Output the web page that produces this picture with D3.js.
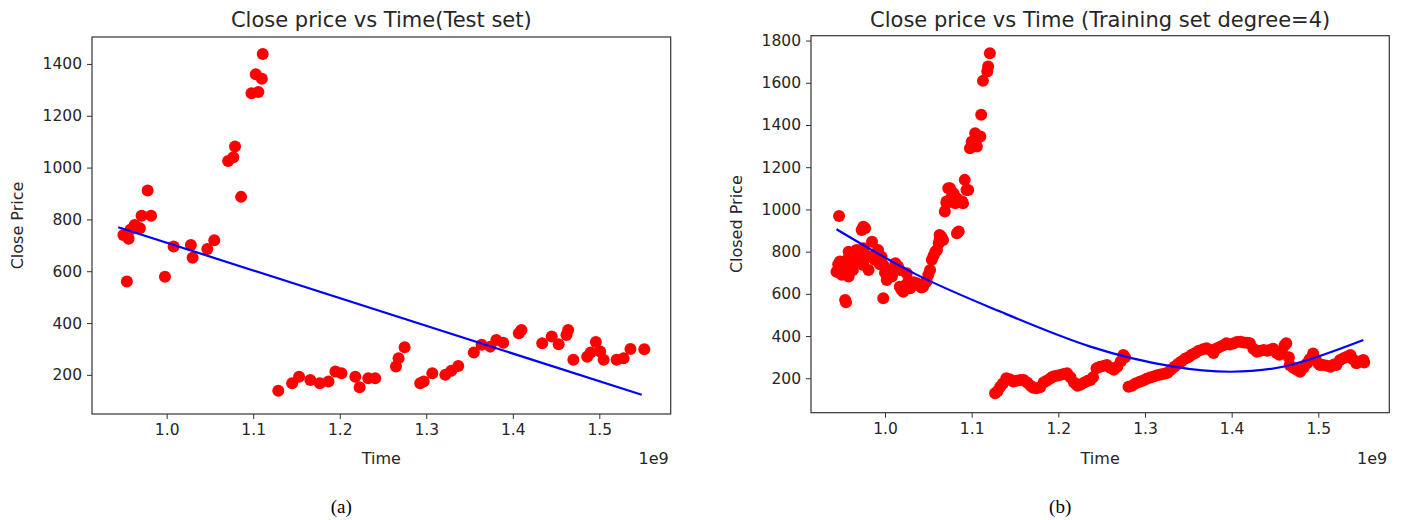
<!DOCTYPE html>
<html>
<head>
<meta charset="utf-8">
<script src="https://cdn.jsdelivr.net/npm/d3@7"></script>
<style>
  body { margin: 0; background: #fff; }
</style>
</head>
<body>
<svg id="chart" width="1401" height="520"></svg>
<script>
// time in units of 1e9 seconds, close price
const testPoints = [
  [0.950, 740], [0.954, 560], [0.956, 725], [0.958, 760], [0.963, 778], [0.966, 770],
  [0.969, 766], [0.971, 814], [0.978, 912], [0.982, 814], [0.998, 579], [1.008, 695],
  [1.028, 701], [1.030, 652], [1.047, 686], [1.055, 720], [1.071, 1025], [1.077, 1040],
  [1.079, 1081], [1.086, 887], [1.098, 1287], [1.106, 1292], [1.103, 1360], [1.110, 1343],
  [1.111, 1438], [1.129, 139], [1.145, 168], [1.153, 193], [1.166, 180], [1.177, 168],
  [1.187, 174], [1.195, 213], [1.202, 206], [1.218, 193], [1.223, 152], [1.233, 187],
  [1.241, 187], [1.265, 232], [1.268, 264], [1.275, 307], [1.293, 168], [1.297, 174],
  [1.307, 206], [1.322, 200], [1.329, 216], [1.337, 234], [1.355, 286], [1.364, 316],
  [1.374, 309], [1.381, 335], [1.389, 324], [1.407, 361], [1.410, 373], [1.434, 322],
  [1.445, 348], [1.453, 318], [1.462, 354], [1.464, 373], [1.470, 258], [1.486, 270],
  [1.490, 286], [1.496, 327], [1.501, 290], [1.505, 258], [1.520, 258], [1.528, 264],
  [1.536, 300], [1.552, 299]
];

const testFit = [[0.944, 770], [1.549, 123]];

const trainPoints = [
  [0.944, 705], [0.946, 740], [0.947, 969], [0.948, 753], [0.950, 690], [0.952, 720],
  [0.954, 571], [0.955, 560], [0.956, 761], [0.956, 713], [0.958, 800], [0.958, 682],
  [0.960, 740], [0.963, 745], [0.963, 713], [0.965, 780], [0.967, 808], [0.969, 760],
  [0.971, 769], [0.973, 903], [0.975, 918], [0.975, 816], [0.975, 737], [0.977, 911],
  [0.979, 780], [0.981, 713], [0.983, 776], [0.985, 847], [0.988, 761], [0.990, 790],
  [0.992, 808], [0.994, 740], [0.996, 776], [0.998, 737], [0.998, 579], [1.000, 700],
  [1.002, 666], [1.004, 705], [1.006, 690], [1.008, 682], [1.010, 720], [1.012, 745],
  [1.015, 730], [1.017, 713], [1.017, 634], [1.019, 620], [1.021, 610], [1.023, 640],
  [1.025, 698], [1.027, 660], [1.029, 627], [1.031, 640], [1.033, 655], [1.035, 645],
  [1.037, 650], [1.040, 640], [1.042, 630], [1.044, 634], [1.046, 650], [1.048, 660],
  [1.050, 690], [1.052, 713], [1.054, 761], [1.056, 780], [1.058, 800], [1.060, 808],
  [1.062, 840], [1.063, 855], [1.063, 879], [1.065, 870], [1.067, 855], [1.069, 990],
  [1.071, 1029], [1.071, 1037], [1.073, 1100], [1.075, 1045], [1.075, 1100], [1.077, 1060],
  [1.079, 1077], [1.081, 1029], [1.083, 1053], [1.083, 887], [1.085, 895], [1.089, 1037],
  [1.090, 1029], [1.092, 1140], [1.094, 1092], [1.096, 1092], [1.098, 1290], [1.100, 1321],
  [1.104, 1361], [1.106, 1298], [1.110, 1345], [1.111, 1448], [1.113, 1609], [1.118, 1653],
  [1.119, 1677], [1.121, 1740],
  [1.127, 129], [1.130, 140], [1.133, 160], [1.136, 175], [1.140, 200], [1.144, 195],
  [1.148, 185], [1.152, 188], [1.156, 192], [1.160, 192], [1.164, 180], [1.168, 165],
  [1.171, 155], [1.175, 153], [1.179, 158], [1.183, 180], [1.187, 190], [1.191, 200],
  [1.194, 208], [1.198, 212], [1.202, 216], [1.206, 220], [1.210, 224], [1.214, 205],
  [1.218, 180], [1.222, 165], [1.226, 170], [1.230, 180], [1.234, 188], [1.237, 192],
  [1.240, 205], [1.244, 247], [1.248, 255], [1.252, 258], [1.256, 263], [1.260, 250],
  [1.264, 240], [1.268, 255], [1.272, 280], [1.275, 310], [1.277, 300],
  [1.281, 160], [1.285, 165], [1.289, 175], [1.294, 184], [1.298, 190], [1.302, 198],
  [1.306, 204], [1.310, 208], [1.314, 214], [1.318, 218], [1.322, 222], [1.326, 226],
  [1.330, 240], [1.334, 255], [1.338, 268], [1.342, 280], [1.346, 292], [1.350, 300],
  [1.354, 312], [1.358, 320], [1.362, 330], [1.367, 338], [1.371, 342], [1.375, 335],
  [1.379, 320], [1.383, 342], [1.387, 350], [1.391, 358], [1.394, 366], [1.398, 360],
  [1.402, 365], [1.406, 372], [1.410, 373], [1.414, 370], [1.418, 368], [1.421, 366],
  [1.425, 340], [1.429, 326], [1.433, 330], [1.437, 334], [1.441, 330], [1.444, 334],
  [1.448, 340], [1.452, 320], [1.455, 312], [1.458, 330], [1.461, 355], [1.463, 366],
  [1.466, 300], [1.467, 263], [1.471, 250], [1.475, 240], [1.479, 231], [1.483, 250],
  [1.487, 271], [1.490, 290], [1.494, 318], [1.497, 290], [1.500, 270], [1.502, 263],
  [1.506, 263], [1.510, 260], [1.514, 255], [1.518, 265], [1.521, 263], [1.525, 287],
  [1.529, 295], [1.533, 302], [1.537, 310], [1.540, 290], [1.544, 271], [1.548, 280],
  [1.552, 287], [1.553, 275]
];

const trainFit = [
  [0.944, 906], [1.037, 690], [1.133, 516], [1.237, 350], [1.333, 255],
  [1.398, 231], [1.467, 262], [1.552, 381]
];

const xTicks = [1.0, 1.1, 1.2, 1.3, 1.4, 1.5];
const testYTicks = [200, 400, 600, 800, 1000, 1200, 1400];
const trainYTicks = [200, 400, 600, 800, 1000, 1200, 1400, 1600, 1800];

const svg = d3.select("#chart")
    .style("font-family", "'DejaVu Sans', sans-serif");

function drawPanel(p) {
    const x = d3.scaleLinear().domain(p.xDomain).range([p.left, p.right]);
    const y = d3.scaleLinear().domain(p.yDomain).range([p.bottom, p.top]);
    const g = svg.append("g");

    g.append("g")
        .selectAll("circle")
        .data(p.points)
        .enter()
        .append("circle")
        .attr("cx", d => x(d[0]))
        .attr("cy", d => y(d[1]))
        .attr("r", 6)
        .attr("fill", "#ff0000");

    g.append("path")
        .datum(p.fit)
        .attr("fill", "none")
        .attr("stroke", "#0000ff")
        .attr("stroke-width", 2.2)
        .attr("d", d3.line().x(d => x(d[0])).y(d => y(d[1])).curve(d3.curveNatural));

    const xAxis = g.append("g")
        .attr("transform", `translate(0,${p.bottom})`)
        .call(d3.axisBottom(x).tickValues(xTicks).tickFormat(d3.format(".1f"))
            .tickSize(5).tickSizeOuter(0).tickPadding(5));
    const yAxis = g.append("g")
        .attr("transform", `translate(${p.left},0)`)
        .call(d3.axisLeft(y).tickValues(p.yTicks).tickFormat(d3.format("d"))
            .tickSize(5).tickSizeOuter(0).tickPadding(5));

    [xAxis, yAxis].forEach(a => {
        a.select(".domain").remove();
        a.selectAll("line").attr("stroke", "#333");
        a.selectAll("text").attr("fill", "#262626").attr("font-size", "15.5px")
            .attr("font-family", "'DejaVu Sans', sans-serif");
    });

    g.append("rect")
        .attr("x", p.left).attr("y", p.top)
        .attr("width", p.right - p.left).attr("height", p.bottom - p.top)
        .attr("fill", "none").attr("stroke", "#333").attr("stroke-width", 1.2);

    const cx = (p.left + p.right) / 2;
    g.append("text")
        .attr("x", cx).attr("y", 27)
        .attr("text-anchor", "middle")
        .attr("font-size", "21px")
        .attr("fill", "#262626")
        .text(p.title);

    g.append("text")
        .attr("x", cx).attr("y", 464)
        .attr("text-anchor", "middle")
        .attr("font-size", "16px")
        .attr("fill", "#262626")
        .text("Time");

    g.append("text")
        .attr("x", p.right - 2).attr("y", 464)
        .attr("text-anchor", "end")
        .attr("font-size", "16px")
        .attr("fill", "#262626")
        .text("1e9");

    g.append("text")
        .attr("transform", `translate(${p.yLabelX},${(p.top + p.bottom) / 2}) rotate(-90)`)
        .attr("text-anchor", "middle")
        .attr("font-size", "16px")
        .attr("fill", "#262626")
        .text(p.yLabel);

    g.append("text")
        .attr("x", cx - 40).attr("y", 513)
        .attr("text-anchor", "middle")
        .attr("font-size", "19px")
        .attr("font-family", "'Liberation Serif', 'Times New Roman', serif")
        .attr("fill", "#000")
        .text(p.caption);
}

drawPanel({
    points: testPoints, fit: testFit,
    xDomain: [0.9137, 1.5825], yDomain: [49, 1504], yTicks: testYTicks,
    left: 92, right: 670.7, top: 37, bottom: 414,
    title: "Close price vs Time(Test set)", yLabel: "Close Price", yLabelX: 23, caption: "(a)"
});

drawPanel({
    points: trainPoints, fit: trainFit,
    xDomain: [0.9146, 1.5819], yDomain: [37, 1823], yTicks: trainYTicks,
    left: 811, right: 1389.3, top: 35.7, bottom: 412.7,
    title: "Close price vs Time (Training set degree=4)", yLabel: "Closed Price", yLabelX: 742, caption: "(b)"
});
</script>
</body>
</html>
